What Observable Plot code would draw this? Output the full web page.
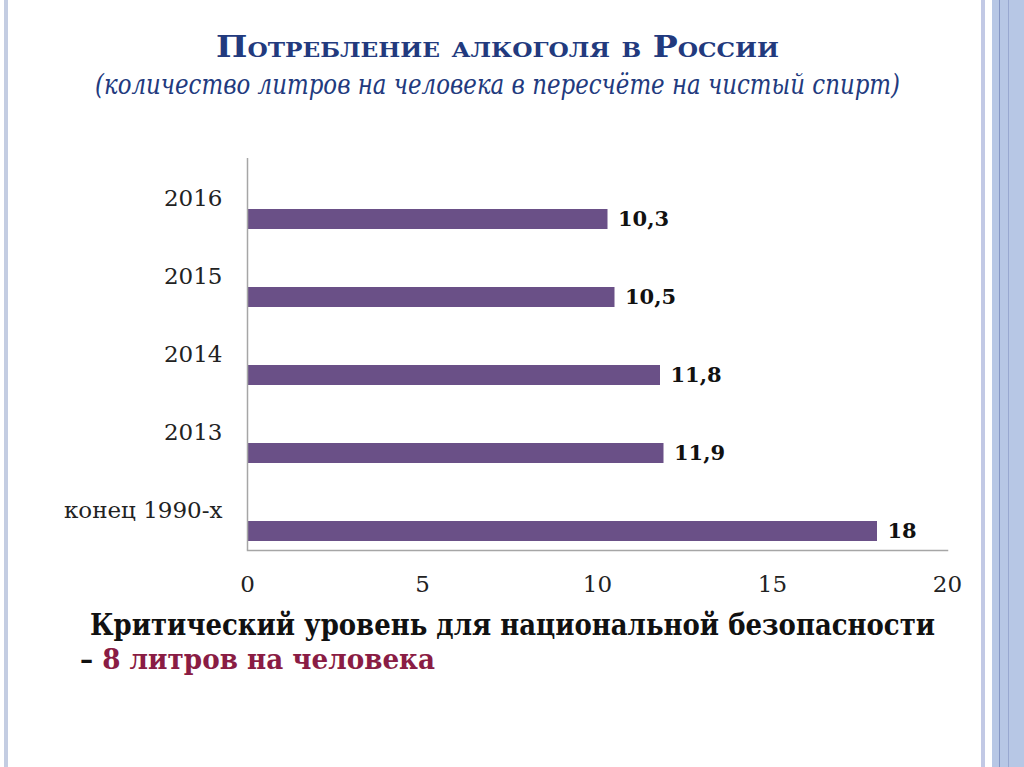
<!DOCTYPE html>
<html><head><meta charset="utf-8">
<script src="https://cdn.jsdelivr.net/npm/d3@7"></script>
<script src="https://cdn.jsdelivr.net/npm/@observablehq/plot@0.6"></script>
<style>
html,body{margin:0;padding:0;background:#fff;}
#slide{position:relative;width:1024px;height:767px;overflow:hidden;background:#fff;}
.abs{position:absolute;white-space:nowrap;line-height:1;transform-origin:0 0;font-family:"DejaVu Serif",serif;}
#title{font-weight:bold;font-variant:small-caps;font-size:30px;color:#223a7e;left:216px;top:32px;}
#subtitle{font-style:italic;font-size:27px;color:#223a7e;left:95px;top:71px;}
#note1{font-weight:bold;font-size:29px;color:#111;left:90px;top:611px;}
#note2{font-weight:bold;font-size:28px;color:#111;left:80px;top:646px;}
#note2 span{color:#8a1c44;}
#chart{position:absolute;left:0;top:0;}
.deco{position:absolute;top:0;height:767px;}
</style></head><body>
<div id="slide">
  <div class="deco" style="left:4px;width:4px;background:#c4cde2;"></div>
  <div class="deco" style="left:981px;width:4px;background:#c2c9e5;"></div>
  <div class="deco" style="left:992px;width:32px;background:#b7c7e5;"></div>
  <div class="deco" style="left:999px;width:1px;background:#8596c4;"></div>
  <div class="deco" style="left:1008px;width:1px;background:#98a8d0;"></div>
  <div id="chart"></div>
  <div id="title" class="abs">Потребление алкоголя в России</div>
  <div id="subtitle" class="abs">(количество литров на человека в пересчёте на чистый спирт)</div>
  <div id="note1" class="abs">Критический уровень для национальной безопасности</div>
  <div id="note2" class="abs">– <span>8 литров на человека</span></div>
</div>
<script>
const categories = ["2016", "2015", "2014", "2013", "конец 1990-х"];
const values = [10.3, 10.5, 11.8, 11.9, 18];
const valueLabels = ["10,3", "10,5", "11,8", "11,9", "18"];
const xTicks = [0, 5, 10, 15, 20];

const data = categories.map((c, i) => ({category: c, value: values[i], label: valueLabels[i]}));

const chart = Plot.plot({
  width: 1024,
  height: 620,
  marginLeft: 247,
  marginRight: 77,
  marginTop: 158,
  marginBottom: 70,
  style: {fontFamily: "DejaVu Serif", fontSize: "23px", color: "#222", background: "transparent", overflow: "visible"},
  x: {domain: [0, 20], ticks: xTicks, tickSize: 0, tickPadding: 25, label: null},
  y: {domain: categories, padding: 0, tickSize: 0, tickPadding: 25, label: null},
  marks: [
    Plot.barX(data, {x: "value", y: "category", fill: "#6a5087", insetTop: 50, insetBottom: 8}),
    Plot.ruleX([0], {stroke: "#a6a6a6", strokeWidth: 1.5}),
    Plot.frame({anchor: "bottom", stroke: "#a6a6a6", strokeWidth: 1.5}),
    Plot.text(data, {x: "value", y: "category", text: "label", dx: 10, dy: 21, textAnchor: "start", fontWeight: "bold", fontSize: 21, fill: "#111"})
  ]
});
document.getElementById("chart").appendChild(chart);

function fit(id, target) {
  const el = document.getElementById(id);
  const w = el.getBoundingClientRect().width;
  el.style.transform = `scaleX(${target / w})`;
}
fit("title", 563);
fit("subtitle", 805);
fit("note1", 845);
fit("note2", 355);
</script>
</body></html>
